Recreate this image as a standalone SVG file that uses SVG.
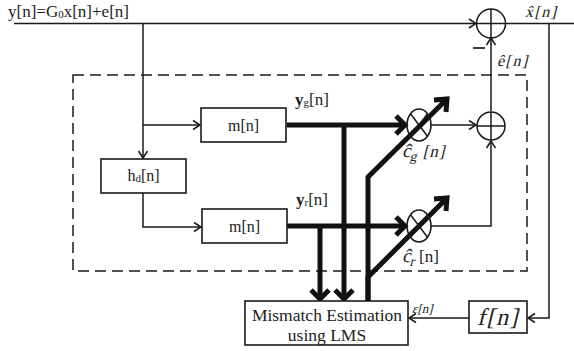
<svg xmlns="http://www.w3.org/2000/svg" width="574" height="351" viewBox="0 0 574 351">
<defs>
<style>
.thin{fill:none;stroke:#1a1a1a;stroke-width:1.5}
.thick{fill:none;stroke:#111;stroke-width:5;stroke-linejoin:miter}
.box{fill:#fff;stroke:#1a1a1a;stroke-width:1.6}
.t{font-family:"Liberation Serif","Times New Roman",serif;fill:#222}
</style>
<marker id="ah" markerWidth="12" markerHeight="12" refX="10" refY="6" orient="auto" markerUnits="userSpaceOnUse">
<polyline points="3,1.5 10,6 3,10.5" fill="none" stroke="#1a1a1a" stroke-width="1.5"/>
</marker>
</defs>
<rect x="73" y="75" width="454" height="196" fill="none" stroke="#1a1a1a" stroke-width="1.5" stroke-dasharray="11,6"/>
<g id="connectors">
<line class="thin" x1="14" y1="23.5" x2="476" y2="23.5" marker-end="url(#ah)"/>
<line class="thin" x1="506" y1="23.5" x2="574" y2="23.5"/>
<line class="thin" x1="143" y1="23.5" x2="143" y2="158" marker-end="url(#ah)"/>
<line class="thin" x1="143" y1="125" x2="200" y2="125" marker-end="url(#ah)"/>
<polyline class="thin" points="143,193 143,227 201,227" marker-end="url(#ah)"/>
<line class="thin" x1="431" y1="125" x2="476" y2="125" marker-end="url(#ah)"/>
<polyline class="thin" points="431,226 491,226 491,141" marker-end="url(#ah)"/>
<line class="thin" x1="491" y1="111" x2="491" y2="38" marker-end="url(#ah)"/>
<polyline class="thin" points="549,23.5 549,318 528,318" marker-end="url(#ah)"/>
<line class="thin" x1="469" y1="318" x2="409" y2="318" marker-end="url(#ah)"/>
<line class="thick" x1="287" y1="125" x2="404" y2="125"/>
<polyline class="thick" points="396,116 405,125 396,134"/>
<line class="thick" x1="287" y1="226" x2="404" y2="226"/>
<polyline class="thick" points="396,217 405,226 396,235"/>
<line class="thick" x1="344" y1="125" x2="344" y2="297"/>
<polyline class="thick" points="335,290 344,299 353,290"/>
<line class="thick" x1="320" y1="226" x2="320" y2="297"/>
<polyline class="thick" points="311,290 320,299 329,290"/>
<polyline class="thick" points="368,301 368,177 446,100"/>
<polyline class="thick" points="434,100 447,99 446,112"/>
<polyline class="thick" points="368,301 368,277 446,199"/>
<polyline class="thick" points="434,199 447,198 446,211"/>
</g>
<g id="sum1">
<circle cx="491" cy="23.5" r="14.5" class="thin"/>
<line class="thin" x1="477" y1="23.5" x2="505" y2="23.5"/>
<line class="thin" x1="491" y1="9" x2="491" y2="38"/>
</g>
<g id="sum2">
<circle cx="491" cy="126" r="14" class="thin"/>
<line class="thin" x1="477" y1="126" x2="505" y2="126"/>
<line class="thin" x1="491" y1="112" x2="491" y2="140"/>
</g>
<g id="mult_g">
<ellipse cx="419" cy="125" rx="12" ry="16" fill="none" stroke="#1a1a1a" stroke-width="1.6"/>
<line class="thin" x1="410.5" y1="113.7" x2="427.5" y2="136.3"/>
<line class="thin" x1="427.5" y1="113.7" x2="410.5" y2="136.3"/>
</g>
<g id="mult_r">
<ellipse cx="419" cy="226" rx="12" ry="16" fill="none" stroke="#1a1a1a" stroke-width="1.6"/>
<line class="thin" x1="410.5" y1="214.7" x2="427.5" y2="237.3"/>
<line class="thin" x1="427.5" y1="214.7" x2="410.5" y2="237.3"/>
</g>
<g id="hd">
<rect class="box" x="101" y="159" width="85" height="34"/>
<text class="t" x="143.5" y="181" font-size="16" text-anchor="middle">h<tspan font-size="11" dy="1">d</tspan><tspan dy="-1">[n]</tspan></text>
</g>
<g id="m_top">
<rect class="box" x="201" y="108" width="85" height="34"/>
<text class="t" x="243.5" y="130.5" font-size="16" text-anchor="middle">m[n]</text>
</g>
<g id="m_bot">
<rect class="box" x="202" y="209" width="85" height="34"/>
<text class="t" x="244.5" y="231.5" font-size="16" text-anchor="middle">m[n]</text>
</g>
<g id="mismatch">
<rect class="box" x="245" y="301" width="163" height="44"/>
<text class="t" x="327" y="320.5" font-size="17.5" text-anchor="middle">Mismatch Estimation</text>
<text class="t" x="327" y="340.5" font-size="17.5" text-anchor="middle">using LMS</text>
</g>
<g id="fbox">
<rect class="box" x="469" y="301" width="58" height="32"/>
<text class="t" transform="translate(498,325) skewX(-14)" x="0" y="0" font-size="24" text-anchor="middle" letter-spacing="1.5">f[n]</text>
</g>
<g id="labels">
<text class="t" x="8" y="17" font-size="17">y[n]=G<tspan font-size="11" dy="1">0</tspan><tspan dy="-1">x[n]+e[n]</tspan></text>
<text class="t" transform="translate(525,17) skewX(-14)" x="0" y="0" font-size="16" letter-spacing="1.5">x̂[n]</text>
<line x1="473" y1="48" x2="485" y2="48" stroke="#222" stroke-width="1.8"/>
<text class="t" transform="translate(497,66) skewX(-14)" x="0" y="0" font-size="16" letter-spacing="1.5">ê[n]</text>
<text class="t" x="295" y="105" font-size="17"><tspan font-weight="bold">y</tspan><tspan font-size="11" dy="1">g</tspan><tspan dy="-1">[n]</tspan></text>
<text class="t" x="296" y="205" font-size="17"><tspan font-weight="bold">y</tspan><tspan font-size="11" dy="1">r</tspan><tspan dy="-1">[n]</tspan></text>
<text class="t" transform="translate(402,157) skewX(-14)" x="0" y="0" font-size="19">ĉ<tspan font-size="14" dy="4">g</tspan><tspan dy="-4" font-size="17" letter-spacing="1"> [n]</tspan></text>
<text class="t" transform="translate(402,262) skewX(-14)" x="0" y="0" font-size="19">ĉ<tspan font-size="14" dy="4">r</tspan></text>
<text class="t" x="419" y="262" font-size="17">[n]</text>
<text class="t" transform="translate(412,313) skewX(-14)" x="0" y="0" font-size="13">ε[n]</text>
</g>
</svg>
